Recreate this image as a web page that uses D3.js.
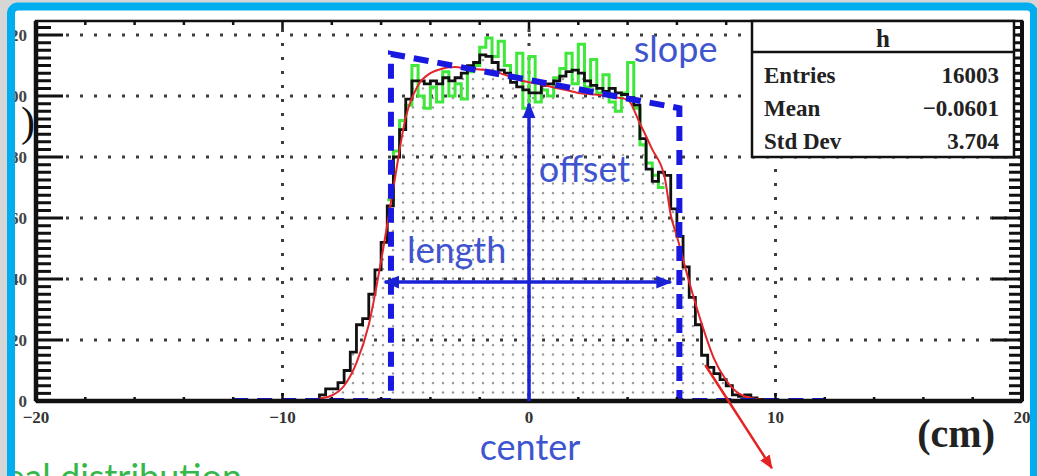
<!DOCTYPE html>
<html>
<head>
<meta charset="utf-8">
<script src="https://cdn.jsdelivr.net/npm/d3@7"></script>
<style>
  html, body { margin: 0; padding: 0; background: #d6d6d6; }
  svg { display: block; }
</style>
</head>
<body>
<svg id="chart" width="1037" height="476"></svg>
<script>
// ---- data -------------------------------------------------------------
const xTicks = [-20, -10, 0, 10, 20];
const yTicks = [0, 20, 40, 60, 80, 100, 120];

// measured (reconstructed) position histogram, 0.25 cm bins starting at -8.5 cm
const binWidth = 0.25;
const measuredStart = -8.5;
const measuredCounts = [
  2, 4, 4, 6, 10, 16, 25, 27, 35, 43, 52, 64, 80, 89, 99, 105, 105, 104, 105, 104,
  106, 105, 106, 107.5, 110, 111, 113.5, 113, 111, 108.5, 107.5, 104.5, 103, 102, 101, 101,
  103.5, 104, 105, 106.5, 108, 108.5, 107.5, 105, 103.5, 102.5, 101.5, 102.5, 101, 100.5,
  99.5, 97, 86, 76, 72, 75, 74, 63, 54, 44, 34, 25, 15, 11, 9, 7, 5, 2, 1.5, 2, 1, 0.5
];

// ideal (true) distribution, same binning, starting at -5.75 cm
const idealStart = -5.75;
const idealCounts = [
  66, 82, 92, 97, 110, 100, 96, 103, 98, 108, 100, 104, 99, 108, 110, 116, 119, 113, 118, 110,
  106, 114, 96, 113, 98, 102, 100, 106, 109, 114, 104, 117, 103, 112, 101, 107, 98, 95, 101,
  111, 96, 84, 78, 74, 70
];

// fitted curve, sampled positions (cm) and values
const fitX = [-15, -10, -9, -8.5, -8, -7.5, -7, -6.5, -6, -5.5, -5, -4.5, -4, -3.5, -3, -2.5, -2,
  -1.5, -1, -0.5, 0, 0.5, 1, 1.5, 2, 2.5, 3, 3.5, 4, 4.5, 5, 5.5, 5.75, 6, 6.5, 7, 7.5, 8, 8.5,
  9, 9.5, 10, 15];
const fitY = [0, 0, 0.3, 0.8, 1.8, 5, 12.5, 25, 46, 70, 93, 103.5, 107.5, 109, 109.5, 109, 108.7,
  108.3, 107, 105.5, 104.5, 103.8, 102.8, 102, 101, 100.6, 100.2, 99.6, 98.8, 91, 82.5, 73.5, 61,
  54, 39, 25.5, 14, 6.8, 2.5, 1, 0.3, 0, 0];

// trapezoid model: outline vertices (cm, value)
const modelX = [-12, -5.6, -5.6, 6.1, 6.1, 12];
const modelY = [0, 0, 113.8, 96, 0, 0];

// model parameters shown as arrows
const offsetArrow = { x: 0, from: 0, to: 97.5 };
const lengthArrow = { y: 39, from: -5.85, to: 5.75 };

const stats = [
  ["Entries", "16003"],
  ["Mean", "\u22120.0601"],
  ["Std Dev", "3.704"]
];

// ---- layout -----------------------------------------------------------
const svg = d3.select("#chart");
const W = 1037, H = 476;
const frame = { left: 36, right: 1022, top: 21, bottom: 401 };

const x = d3.scaleLinear().domain([-20, 20]).range([frame.left, frame.right]);
const y = d3.scaleLinear().domain([0, 124.6]).range([frame.bottom, frame.top]);

const defs = svg.append("defs");
defs.append("clipPath").attr("id", "panel")
  .append("rect").attr("x", 15).attr("y", 10.5).attr("width", 1015).attr("height", 480);
defs.append("clipPath").attr("id", "plotArea")
  .append("rect").attr("x", frame.left).attr("y", frame.top)
  .attr("width", frame.right - frame.left).attr("height", frame.bottom - frame.top);
const pat = defs.append("pattern").attr("id", "dots")
  .attr("patternUnits", "userSpaceOnUse").attr("width", 10).attr("height", 9.5);
pat.append("circle").attr("cx", 3).attr("cy", 3).attr("r", 1.15).attr("fill", "#8c8c8c");

function arrowMarker(id, color, size) {
  defs.append("marker").attr("id", id)
    .attr("viewBox", "0 0 10 10").attr("refX", 9).attr("refY", 5)
    .attr("markerUnits", "userSpaceOnUse")
    .attr("markerWidth", size).attr("markerHeight", size)
    .attr("orient", "auto-start-reverse")
    .append("path").attr("d", "M0,1 L10,5 L0,9 Z").attr("fill", color);
}
arrowMarker("arrBlue", "#1a22d6", 16);
arrowMarker("arrRed", "#e52222", 14);

// white card with blue rounded border
svg.append("rect").attr("width", W).attr("height", H).attr("fill", "#d6d6d6");
svg.append("rect").attr("x", 11).attr("y", 6.5).attr("width", 1023).attr("height", 520)
  .attr("rx", 7).attr("fill", "#ffffff");

const panel = svg.append("g").attr("clip-path", "url(#panel)");

// ---- histogram helpers ------------------------------------------------
function stepPoints(start, counts, closeToZero) {
  const pts = [];
  if (closeToZero) pts.push([start, 0]);
  counts.forEach((c, i) => {
    const l = start + i * binWidth, r = l + binWidth;
    pts.push([l, c], [r, c]);
  });
  if (closeToZero) pts.push([start + counts.length * binWidth, 0]);
  return pts;
}
const line = d3.line().x(d => x(d[0])).y(d => y(d[1]));

const plot = panel.append("g").attr("clip-path", "url(#plotArea)");

// dotted fill under the measured histogram
const measuredPts = stepPoints(measuredStart, measuredCounts, true);
plot.append("path")
  .attr("d", d3.area().x(d => x(d[0])).y0(y(0)).y1(d => y(d[1]))(measuredPts))
  .attr("fill", "url(#dots)");

// grid
const grid = plot.append("g").attr("stroke", "#3c3c3c").attr("stroke-width", 3)
  .attr("stroke-dasharray", "3,11").attr("fill", "none");
yTicks.filter(v => v > 0).forEach(v => {
  grid.append("line").attr("x1", frame.left + 30).attr("x2", frame.right)
    .attr("y1", y(v)).attr("y2", y(v));
});
xTicks.filter(v => v > -20 && v < 20).forEach(v => {
  grid.append("line").attr("x1", x(v)).attr("x2", x(v))
    .attr("y1", frame.top + 8).attr("y2", frame.bottom);
});

// ideal distribution (green)
plot.append("path").attr("d", line(stepPoints(idealStart, idealCounts, false)))
  .attr("fill", "none").attr("stroke", "#3fe83a").attr("stroke-width", 3)
  .attr("stroke-linejoin", "miter");

// measured distribution (black)
plot.append("path")
  .attr("d", line([[-20, 0]].concat(measuredPts, [[20, 0]])))
  .attr("fill", "none").attr("stroke", "#111").attr("stroke-width", 2.8);

// fit curve (red)
plot.append("path")
  .attr("d", d3.line().x((d, i) => x(fitX[i])).y(d => y(d)).curve(d3.curveMonotoneX)(fitY))
  .attr("fill", "none").attr("stroke", "#e3262b").attr("stroke-width", 2);

// trapezoid model (blue dashed)
plot.append("path")
  .attr("d", d3.line().x((d, i) => x(modelX[i])).y(d => y(d))(modelY))
  .attr("fill", "none").attr("stroke", "#1818e0").attr("stroke-width", 6)
  .attr("stroke-dasharray", "15,9");

// ---- axes frame and ticks --------------------------------------------
const axes = panel.append("g").attr("stroke", "#111").attr("fill", "none");
axes.append("rect").attr("x", frame.left).attr("y", frame.top)
  .attr("width", frame.right - frame.left).attr("height", frame.bottom - frame.top)
  .attr("stroke-width", 2.5);
axes.append("line").attr("x1", frame.left).attr("x2", frame.left)
  .attr("y1", frame.top).attr("y2", frame.bottom).attr("stroke-width", 4.5);
axes.append("line").attr("x1", frame.left).attr("x2", frame.right)
  .attr("y1", frame.bottom).attr("y2", frame.bottom).attr("stroke-width", 4.5);
axes.append("line").attr("x1", frame.right).attr("x2", frame.right)
  .attr("y1", frame.top).attr("y2", frame.bottom).attr("stroke-width", 4);

const yMinor = d3.range(0, 124.6, 2.5);
yMinor.forEach(v => {
  const major = v % 20 === 0;
  const len = major ? 27 : 15;
  axes.append("line").attr("x1", frame.left).attr("x2", frame.left + len)
    .attr("y1", y(v)).attr("y2", y(v)).attr("stroke-width", 3);
  axes.append("line").attr("x1", frame.right).attr("x2", frame.right - (major ? 30 : 13))
    .attr("y1", y(v)).attr("y2", y(v)).attr("stroke-width", 3);
});
d3.range(-20, 20.01, 2).forEach(v => {
  const len = v % 10 === 0 ? 8 : 4;
  axes.append("line").attr("x1", x(v)).attr("x2", x(v))
    .attr("y1", frame.bottom).attr("y2", frame.bottom - len).attr("stroke-width", 2.5);
  axes.append("line").attr("x1", x(v)).attr("x2", x(v))
    .attr("y1", frame.top).attr("y2", frame.top + len).attr("stroke-width", 2.5);
});

// tick labels
const tickFont = "'Liberation Serif', 'Times New Roman', serif";
panel.append("g").selectAll("text").data(xTicks).join("text")
  .attr("x", d => x(d)).attr("y", 423)
  .attr("text-anchor", "middle").attr("font-family", tickFont).attr("font-weight", "bold")
  .attr("font-size", 17).attr("fill", "#333")
  .text(d => d < 0 ? "\u2212" + Math.abs(d) : String(d));
panel.append("g").selectAll("text").data(yTicks).join("text")
  .attr("x", 27).attr("y", d => y(d) + 6)
  .attr("text-anchor", "end").attr("font-family", tickFont).attr("font-weight", "bold")
  .attr("font-size", 17).attr("fill", "#444").text(d => d);
panel.append("text").attr("x", 35).attr("y", 136).attr("text-anchor", "end")
  .attr("font-family", tickFont).attr("font-size", 42).attr("fill", "#111").text(")");

// axis title
panel.append("text").attr("x", 995).attr("y", 447).attr("text-anchor", "end")
  .attr("font-family", tickFont).attr("font-weight", "bold").attr("font-size", 40)
  .attr("fill", "#222").text("(cm)");

// ---- model parameter arrows and labels --------------------------------
panel.append("line")
  .attr("x1", x(offsetArrow.x)).attr("x2", x(offsetArrow.x))
  .attr("y1", y(offsetArrow.from)).attr("y2", y(offsetArrow.to))
  .attr("stroke", "#1a22d6").attr("stroke-width", 3.5).attr("marker-end", "url(#arrBlue)");
panel.append("line")
  .attr("x1", x(lengthArrow.from)).attr("x2", x(lengthArrow.to))
  .attr("y1", y(lengthArrow.y)).attr("y2", y(lengthArrow.y))
  .attr("stroke", "#1a22d6").attr("stroke-width", 3.5)
  .attr("marker-start", "url(#arrBlue)").attr("marker-end", "url(#arrBlue)");

const labelFont = "Lato, 'Open Sans', sans-serif";
const labels = [
  { t: "slope", x: 4.25, y: 111 },
  { t: "offset", x: 0.4, y: 71.8 },
  { t: "length", x: -4.95, y: 45.3 },
  { t: "center", x: -2.0, y: -19.3 }
];
panel.append("g").selectAll("text").data(labels).join("text")
  .attr("x", d => x(d.x)).attr("y", d => y(d.y))
  .attr("font-family", labelFont).attr("font-size", 36).attr("fill", "#3f55cf")
  .text(d => d.t);

// red pointer arrow
panel.append("line")
  .attr("x1", x(7.15)).attr("y1", y(11.8)).attr("x2", x(9.85)).attr("y2", y(-22))
  .attr("stroke", "#e52222").attr("stroke-width", 2.5).attr("marker-end", "url(#arrRed)");

// legend caption for the ideal distribution (bottom left)
panel.append("text").attr("x", 242).attr("y", 490).attr("text-anchor", "end")
  .attr("font-family", labelFont).attr("font-size", 36).attr("fill", "#34b84a")
  .text("Ideal distribution");

// ---- statistics box ---------------------------------------------------
const box = panel.append("g");
const bx = 752, bw = 262, by = frame.top, bh = 136, hh = 31;
box.append("rect").attr("x", bx).attr("y", by).attr("width", bw).attr("height", bh)
  .attr("fill", "#fff").attr("stroke", "#111").attr("stroke-width", 2.5);
box.append("line").attr("x1", bx).attr("x2", bx + bw).attr("y1", by + hh).attr("y2", by + hh)
  .attr("stroke", "#111").attr("stroke-width", 2.5);
box.append("text").attr("x", bx + bw / 2).attr("y", by + 26).attr("text-anchor", "middle")
  .attr("font-family", tickFont).attr("font-weight", "bold").attr("font-size", 25)
  .attr("fill", "#222").text("h");
stats.forEach((s, i) => {
  const yy = by + hh + 31 + i * 33;
  box.append("text").attr("x", bx + 12).attr("y", yy)
    .attr("font-family", tickFont).attr("font-weight", "bold").attr("font-size", 23)
    .attr("fill", "#222").text(s[0]);
  box.append("text").attr("x", bx + bw - 15).attr("y", yy).attr("text-anchor", "end")
    .attr("font-family", tickFont).attr("font-weight", "bold").attr("font-size", 23)
    .attr("fill", "#222").text(s[1]);
});

// blue rounded border on top
svg.append("rect").attr("x", 11).attr("y", 6.5).attr("width", 1023).attr("height", 520)
  .attr("rx", 7).attr("fill", "none").attr("stroke", "#00adef").attr("stroke-width", 8);
</script>
</body>
</html>
